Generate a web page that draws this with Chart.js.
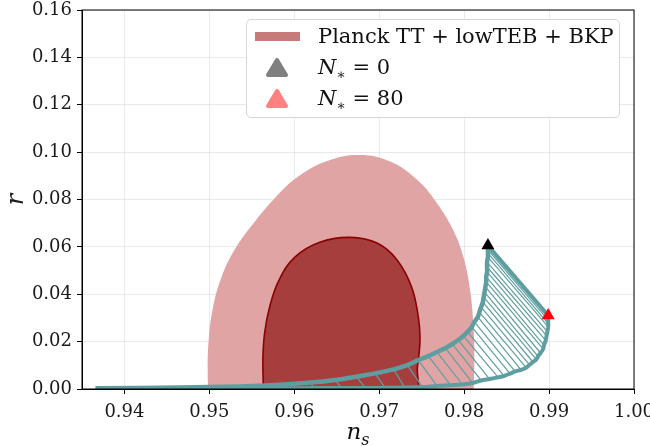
<!DOCTYPE html>
<html>
<head>
<meta charset="utf-8">
<script src="https://cdn.jsdelivr.net/npm/chart.js@4.4.0/dist/chart.umd.min.js"></script>
<style>
  html, body { margin:0; padding:0; background:#fff; }
  #wrap { position:relative; width:650px; height:446px; font-family:'DejaVu Serif', serif; color:#111; }
  #chart { position:absolute; left:0; top:0; }
  .legend { position:absolute; left:246px; top:19px; width:372px; height:97px; border:1px solid #d6d6d6; border-radius:5px; background:rgba(255,255,255,0.93); }
  .row { position:absolute; left:0; width:372px; height:30px; line-height:30px; font-size:21px; }
  .row .txt { position:absolute; left:71px; top:0; white-space:nowrap; }
  .patch { position:absolute; left:8px; top:11px; width:45px; height:9px; background:#c77a7a; }
  .row svg { position:absolute; left:18px; top:5px; }
  sub { font-size:14px; vertical-align:-5px; line-height:0; }
  .xtitle { position:absolute; left:308px; top:419px; width:100px; text-align:center; font-size:23px; line-height:25px; font-style:italic; }
  .xtitle sub { font-size:16px; vertical-align:-6px; }
</style>
</head>
<body>
<div id="wrap">
  <canvas id="chart" width="650" height="446"></canvas>
  <div class="legend">
    <div class="row" style="top:1px"><div class="patch"></div><span class="txt">Planck TT + lowTEB + BKP</span></div>
    <div class="row" style="top:32px">
      <svg width="24" height="21"><polygon points="12,3 21,18 3,18" fill="#808080" stroke="#808080" stroke-width="4" stroke-linejoin="round"/></svg>
      <span class="txt"><i>N</i><sub>∗</sub> = 0</span></div>
    <div class="row" style="top:63px">
      <svg width="24" height="21"><polygon points="12,3 21,18 3,18" fill="#ff8080" stroke="#ff8080" stroke-width="4" stroke-linejoin="round"/></svg>
      <span class="txt"><i>N</i><sub>∗</sub> = 80</span></div>
  </div>
  <div class="xtitle">n<sub>s</sub></div>
</div>
<script>
// axis ticks
const xTicks = [0.94, 0.95, 0.96, 0.97, 0.98, 0.99, 1.00];
const yTicks = [0.00, 0.02, 0.04, 0.06, 0.08, 0.10, 0.12, 0.14, 0.16];

// Planck TT + lowTEB + BKP, 95% region (outer) and 68% region (inner)
const outerNs = [0.9499, 0.9498, 0.9499, 0.9504, 0.9514, 0.9530, 0.9552, 0.9578, 0.9605, 0.9638, 0.9677, 0.9713, 0.9745, 0.9768, 0.9787, 0.9799, 0.9807, 0.9811, 0.9812, 0.9811];
const outerR  = [-0.004, 0.0070, 0.0200, 0.0340, 0.0470, 0.0590, 0.0700, 0.0810, 0.0898, 0.0962, 0.0988, 0.0960, 0.0882, 0.0784, 0.0671, 0.0558, 0.0418, 0.0263, 0.0136, -0.004];
const innerNs = [0.9564, 0.9563, 0.9565, 0.9571, 0.9582, 0.9601, 0.9630, 0.9666, 0.9698, 0.9721, 0.9738, 0.9746, 0.9748, 0.9745, 0.9740, 0.9564];
const innerR  = [-0.004, 0.0122, 0.0235, 0.0347, 0.0460, 0.0558, 0.0620, 0.0640, 0.0615, 0.0545, 0.0432, 0.0305, 0.0207, 0.0094, -0.004, -0.004];

// model predictions: N* = 0 branch (A) and N* = 80 branch (B), same parameter index
const nsA = [0.9366, 0.9465, 0.9536, 0.9583, 0.9619, 0.9648, 0.9673, 0.9695, 0.9717, 0.9733, 0.9746, 0.9758, 0.9768, 0.9778, 0.9786, 0.9793, 0.9799, 0.9804, 0.9809, 0.9812, 0.9816, 0.9818, 0.9820, 0.9822, 0.9823, 0.9824, 0.9825, 0.9826, 0.9826, 0.9827, 0.9827, 0.9827, 0.9828, 0.9828, 0.9828, 0.9828, 0.9828];
const rA  = [0.0003, 0.0006, 0.0011, 0.0018, 0.0027, 0.0038, 0.0052, 0.0066, 0.0083, 0.0101, 0.0122, 0.0139, 0.0156, 0.0173, 0.0190, 0.0207, 0.0224, 0.0241, 0.0262, 0.0283, 0.0304, 0.0325, 0.0346, 0.0367, 0.0388, 0.0409, 0.0431, 0.0452, 0.0473, 0.0494, 0.0515, 0.0536, 0.0557, 0.0574, 0.0587, 0.0597, 0.0606];
const nsB = [0.9366, 0.9468, 0.9541, 0.9589, 0.9623, 0.9656, 0.9684, 0.9707, 0.9730, 0.9751, 0.9768, 0.9784, 0.9798, 0.9810, 0.9820, 0.9830, 0.9840, 0.9847, 0.9854, 0.9860, 0.9867, 0.9873, 0.9877, 0.9881, 0.9885, 0.9887, 0.9890, 0.9893, 0.9894, 0.9896, 0.9897, 0.9898, 0.9899, 0.9899, 0.9899, 0.9899, 0.9899];
const rB  = [0.0003, 0.0003, 0.0003, 0.0003, 0.0004, 0.0004, 0.0004, 0.0005, 0.0006, 0.0008, 0.0013, 0.0016, 0.0019, 0.0025, 0.0036, 0.0042, 0.0049, 0.0055, 0.0065, 0.0074, 0.0081, 0.0090, 0.0102, 0.0114, 0.0125, 0.0138, 0.0152, 0.0169, 0.0185, 0.0205, 0.0225, 0.0242, 0.0262, 0.0276, 0.0291, 0.0302, 0.0310];

const TEAL = '#5f9ea0';
const pts = (xs, ys) => xs.map((x, i) => ({ x, y: ys[i] }));

// hatch: one segment per parameter value, from branch A to branch B
const hatch = [];
nsA.forEach((x, i) => {
  hatch.push({ x, y: rA[i] }, { x: nsB[i], y: rB[i] }, { x: null, y: null });
});
const last = nsA.length - 1;

// top + right spines
const frame = {
  id: 'frame',
  afterDraw(chart) {
    const { ctx, chartArea: a } = chart;
    ctx.save();
    ctx.strokeStyle = '#000';
    ctx.lineWidth = 1;
    ctx.strokeRect(a.left, a.top, a.right - a.left, a.bottom - a.top);
    ctx.restore();
  }
};

Chart.defaults.font.family = "'DejaVu Serif', serif";
Chart.defaults.color = '#1a1a1a';

new Chart(document.getElementById('chart'), {
  type: 'line',
  data: {
    datasets: [
      { label: 'N* endpoints', data: [{ x: nsA[last], y: rA[last] }, { x: nsB[last], y: rB[last] }],
        showLine: false, pointStyle: 'triangle', pointRadius: 7.5, borderWidth: 0,
        pointBackgroundColor: ['#000000', '#ff0000'], pointBorderColor: ['#000000', '#ff0000'], order: 0 },
      { label: 'edge', data: [{ x: nsA[last], y: rA[last] }, { x: nsB[last], y: rB[last] }],
        borderColor: TEAL, borderWidth: 4, fill: false, order: 1 },
      { label: 'N*=0 branch', data: pts(nsA, rA), borderColor: TEAL, borderWidth: 4.5, fill: false, tension: 0.3, order: 2 },
      { label: 'N*=80 branch', data: pts(nsB, rB), borderColor: TEAL, borderWidth: 4, fill: false, tension: 0.3, order: 3 },
      { label: 'hatch', data: hatch, borderColor: TEAL, borderWidth: 1.2, fill: false, spanGaps: false, order: 4 },
      { label: '68%', data: pts(innerNs, innerR), borderColor: '#8b0000', borderWidth: 1.6,
        backgroundColor: '#a63e3e', fill: 'shape', tension: 0.4, order: 5 },
      { label: 'Planck TT + lowTEB + BKP', data: pts(outerNs, outerR), borderWidth: 0,
        backgroundColor: '#e0a4a5', fill: 'shape', tension: 0.4, order: 6 }
    ]
  },
  options: {
    animation: false,
    responsive: false,
    layout: { padding: { top: 10, right: 16, left: 0, bottom: 0 } },
    elements: { point: { radius: 0, hoverRadius: 0 }, line: { tension: 0, borderCapStyle: 'butt' } },
    plugins: { legend: { display: false }, tooltip: { enabled: false } },
    scales: {
      x: {
        type: 'linear', min: 0.935, max: 1.0, z: 1,
        afterBuildTicks: s => { s.ticks = xTicks.map(v => ({ value: v })); },
        afterFit: s => { s.height = 57; s.paddingLeft = 0; s.paddingRight = 0; },
        ticks: { font: { size: 18 }, padding: 8, callback: v => v.toFixed(2) },
        grid: { color: 'rgba(190,190,190,0.32)', tickColor: '#000', tickLength: 5 },
        border: { color: '#000', width: 1 }
      },
      y: {
        type: 'linear', min: 0, max: 0.16, z: 1,
        afterBuildTicks: s => { s.ticks = yTicks.map(v => ({ value: v })); },
        afterFit: s => { s.width = 82; s.paddingTop = 0; s.paddingBottom = 0; },
        ticks: { font: { size: 18 }, padding: 5, callback: v => v.toFixed(2) },
        grid: { color: 'rgba(190,190,190,0.32)', tickColor: '#000', tickLength: 5 },
        border: { color: '#000', width: 1 },
        title: { display: true, text: 'r', font: { size: 24, style: 'italic' }, padding: { top: 2, bottom: 0 } }
      }
    }
  },
  plugins: [frame]
});
</script>
</body>
</html>
